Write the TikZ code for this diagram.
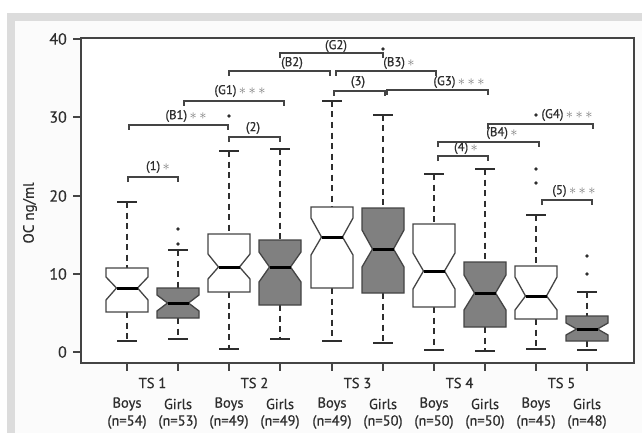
\documentclass[tikz,border=0pt]{standalone}
\usepackage{fontspec}
\setmainfont{PT Sans}[FakeBold=0.6]
\definecolor{band}{HTML}{DCDCDC}
\definecolor{panel}{HTML}{FBFBFB}
\definecolor{boxgray}{HTML}{808080}
\definecolor{ink}{HTML}{2E2E2E}
\definecolor{linec}{HTML}{444444}
\definecolor{stargray}{HTML}{7A7A7A}
\tikzset{
  whisk/.style={draw=ink, line width=2pt, dash pattern=on 6pt off 4.5pt},
  capline/.style={draw=ink, line width=1.7pt},
  boxst/.style={draw=linec, line width=1.3pt, line join=miter},
  medline/.style={draw=black, line width=3pt},
  brk/.style={draw=linec, line width=1.4pt},
  blabel/.style={text=ink, inner sep=0pt, font=\fontsize{12.8}{14}\selectfont},
  xlab/.style={text=ink, inner sep=0pt, font=\fontsize{14.5}{17}\selectfont},
  ylab/.style={text=ink, inner sep=0pt, anchor=east, font=\fontsize{16}{18}\selectfont},
  outl/.style={fill=ink}
}
\newcommand\nbox[9]{%
  \draw[whisk] (#1,#2) -- (#1,#3);
  \draw[whisk] (#1,#7) -- (#1,#8);
  \draw[capline] (#1-10,#2) -- (#1+10,#2);
  \draw[capline] (#1-10,#8) -- (#1+10,#8);
  \filldraw[boxst, fill=#9] (#1-21,#3) -- (#1+21,#3) -- (#1+21,#4) -- (#1+10.5,#5) -- (#1+21,#6) -- (#1+21,#7) -- (#1-21,#7) -- (#1-21,#6) -- (#1-10.5,#5) -- (#1-21,#4) -- cycle;
  \draw[medline] (#1-10.5,#5) -- (#1+10.5,#5);
}
\newcommand\brak[3]{\draw[brk] (#1,#3+5) -- (#1,#3) -- (#2,#3) -- (#2,#3+5);}
\newcommand\mystars[1]{{\color{stargray}\fontsize{15}{15}\selectfont\foreach \k in {1,...,#1}{\,$\ast$}}}
\newcommand\outp[2]{\fill[outl] (#1,#2) circle (1.8);}
\begin{document}
\begin{tikzpicture}[x=1pt,y=-1pt]
\useasboundingbox (0,0) rectangle (642,433);
\fill[white] (0,0) rectangle (642,433);
\fill[band] (7,13) rectangle (642,433);
\fill[panel] (15,21) rectangle (642,433);
\fill[white] (81,38) rectangle (634,363);
% boxes
\nbox{127}{202}{268}{277}{288}{300}{312}{341}{white}
\nbox{178}{250}{288}{295}{303}{311}{318}{339}{boxgray}
\nbox{229}{151}{234}{254}{267}{279}{292}{349}{white}
\nbox{280}{149}{240}{252}{267}{282}{305}{339}{boxgray}
\nbox{332}{101}{207}{218}{237}{255}{288}{341}{white}
\nbox{383}{115}{208}{230}{249}{267}{293}{343}{boxgray}
\nbox{434}{174}{224}{253}{271}{289}{307}{350}{white}
\nbox{485}{169}{262}{275}{293}{310}{327}{351}{boxgray}
\nbox{536}{215}{266}{277}{296}{310}{319}{349}{white}
\nbox{587}{292}{316}{323}{329}{335}{341}{350}{boxgray}
% outliers
\outp{178}{229}\outp{178}{244}
\outp{229}{116}
\outp{383}{49}
\outp{536}{115}\outp{536}{169}\outp{536}{183}
\outp{587}{256}\outp{587}{274}
% frame and axes
\draw[draw=linec, line width=1.7pt] (81,38) rectangle (634,363);
\foreach \v/\yy in {0/352,10/274,20/196,30/117,40/39}{
  \draw[draw=linec, line width=1.7pt] (73,\yy) -- (81,\yy);
  \node[ylab] (yt\v) at (67,\yy) {\v};
}
\foreach \xx in {127,178,229,280,332,383,434,485,536,587}{
  \draw[draw=linec, line width=1.7pt] (\xx,363) -- (\xx,371);
}
\node[text=ink, rotate=90, inner sep=0pt, font=\fontsize{15}{17}\selectfont] (ylabel) at (30,213) {OC ng/ml};
% x labels
\foreach \i/\xa/\xb in {1/127/178,2/229/280,3/332/383,4/434/485,5/536/587}{
  \node[xlab] (ts\i) at ({(\xa+\xb)/2},383) {TS \i};
  \node[xlab] (b\i) at (\xa,404) {Boys};
  \node[xlab] (g\i) at (\xb,404) {Girls};
}
\foreach \xx/\n in {127/54,178/53,229/49,280/49,332/49,383/50,434/50,485/50,536/45,587/48}{
  \node[xlab] (n\xx) at (\xx,422) {(n=\n)};
}
% brackets
\brak{128}{178}{177}\node[blabel] (l1) at (158,167) {(1)\mystars{1}};
\brak{229}{280}{137}\node[blabel] (l2) at (253,128) {(2)};
\brak{129}{228}{125}\node[blabel] (lb1) at (186,116) {(B1)\mystars{2}};
\brak{184}{284}{101}\node[blabel] (lg1) at (240,91) {(G1)\mystars{3}};
\brak{229}{330}{71}\node[blabel] (lb2) at (292,63) {(B2)};
\brak{280}{383}{53}\node[blabel] (lg2) at (336,46) {(G2)};
\brak{336}{436}{71}\node[blabel] (lb3) at (399,63) {(B3)\mystars{1}};
\brak{334}{385}{91}\node[blabel] (l3) at (358,82) {(3)};
\brak{387}{488}{90}\node[blabel] (lg3) at (459,82) {(G3)\mystars{3}};
\brak{438}{488}{156}\node[blabel] (l4) at (466,148) {(4)\mystars{1}};
\brak{438}{539}{142}\node[blabel] (lb4) at (502,133) {(B4)\mystars{1}};
\brak{488}{593}{124}\node[blabel] (lg4) at (567,115) {(G4)\mystars{3}};
\brak{542}{592}{200}\node[blabel] (l5) at (574,191) {(5)\mystars{3}};
\end{tikzpicture}
\end{document}
